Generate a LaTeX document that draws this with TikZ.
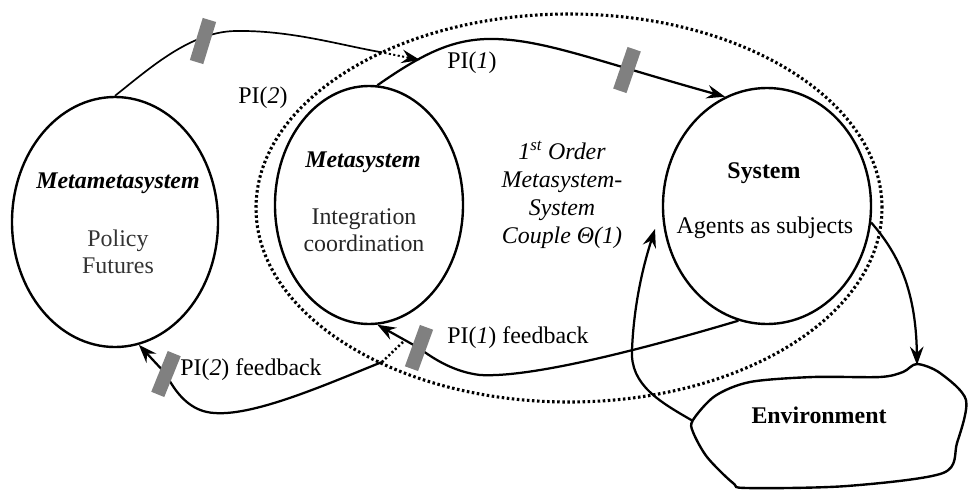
\documentclass[tikz,border=0pt]{standalone}
\usepackage{fontspec}
\setmainfont{Liberation Serif}
\usetikzlibrary{arrows.meta,shapes.geometric}

\begin{document}
\begin{tikzpicture}[x=0.25mm,y=-0.25mm,
  font=\fontsize{17}{19}\selectfont,
  oval/.style={draw,ellipse,line width=1.7pt,inner sep=0pt},
  flow/.style={line width=1.6pt,-{Stealth[length=4.6mm,width=3.4mm,inset=1.6mm]}},
  linkdots/.style={line width=1.8pt,dash pattern=on 1.5pt off 1.7pt},
  gate/.style={fill=gray,inner sep=0pt,minimum width=3.5mm,minimum height=11mm}]
\useasboundingbox (0,0) rectangle (971,490);

\node[oval,minimum width=51.5mm,minimum height=62.5mm] (mm) at (115,222) {};
\node[oval,minimum width=47mm,minimum height=59.5mm] (ms) at (369,205) {};
\node[oval,minimum width=52mm,minimum height=59mm] (sys) at (767,206) {};
\node[draw,ellipse,inner sep=0pt,line width=2.2pt,dash pattern=on 1.8pt off 1.8pt,
  minimum width=156.5mm,minimum height=97mm] (couple) at (569,208) {};

\node (mmtitle) at (118,183) {\textbf{\textit{Metametasystem}}};
\node[align=center,text=black!80] (mmtext) at (118,252) {Policy\\Futures};
\node (mstitle) at (363,162) {\textbf{\textit{Metasystem}}};
\node[align=center,text=black!85] (mstext) at (364,230) {Integration\\coordination};
\node[align=center,font=\fontsize{17}{20}\selectfont\itshape] (couplelabel) at (562,195)
  {1\textsuperscript{st} Order\\Metasystem-\\System\\Couple Θ(1)};
\node (systitle) at (764,173) {\textbf{System}};
\node (systext) at (765,228) {Agents as subjects};

% environment
\draw[line width=1.7pt] plot[smooth cycle,tension=0.5] coordinates {(693,420) (715,396)
  (750,382) (813,377) (880,377) (903,372) (917,364) (940,373) (966,400) (957,443)
  (943,473) (847,486) (747,488) (733,483) (707,457) (693,432)};
\node (env) at (819,415) {\textbf{Environment}};
\coordinate (envnw) at (693,421);
\coordinate (envbump) at (917,365);
\coordinate (envtip) at (655,229);

% PI(2)
\coordinate (pitwoin) at (380,52);
\coordinate (pitwotip) at (420,60);
\draw[line width=1.2pt] (mm.north) .. controls (150,68) and (190,32) .. (235,31)
  .. controls (290,30) and (340,45) .. (pitwoin);
\draw[flow,linkdots,line width=1.4pt] (pitwoin) -- (pitwotip);
\node (pitwolabel) at (263,98) {PI(\textit{2})};

% PI(1)
\draw[flow] (ms.86) .. controls (425,52) and (455,38) .. (495,39)
  .. controls (545,40) and (600,62) .. (sys.111);
\node (pionelabel) at (472,63) {PI(\textit{1})};

% PI(1) feedback
\coordinate (fbonemid) at (419,348);
\draw[flow] (sys.256) .. controls (640,350) and (530,378) .. (480,375)
  .. controls (455,372) and (435,360) .. (fbonemid) -- (ms.274);
\node (fbonelabel) at (518,338) {PI(\textit{1}) feedback};

% PI(2) feedback
\coordinate (fbfork) at (403,342);
\coordinate (fbout) at (382,362);
\coordinate (fbtwomid) at (166,374);
\draw[linkdots] (fbfork) -- (fbout);
\draw[flow] (fbout) .. controls (320,387) and (245,420) .. (207,412)
  .. controls (188,408) and (175,392) .. (fbtwomid) -- (mm.281);
\node (fbtwolabel) at (251,370) {PI(\textit{2}) feedback};

% environment and system
\draw[flow] (envnw) .. controls (660,402) and (630,385) .. (632,350)
  .. controls (634,300) and (645,260) .. (envtip);
\draw[flow] (sys.351) .. controls (895,250) and (916,285) .. (envbump);

% gates
\node[gate,rotate=-17] (gatetwo) at (203,41) {};
\node[gate,rotate=-19] (gateone) at (627,70) {};
\node[gate,rotate=-20] (gateonefb) at (fbonemid) {};
\node[gate,rotate=-22] (gatetwofb) at (fbtwomid) {};
\end{tikzpicture}
\end{document}
